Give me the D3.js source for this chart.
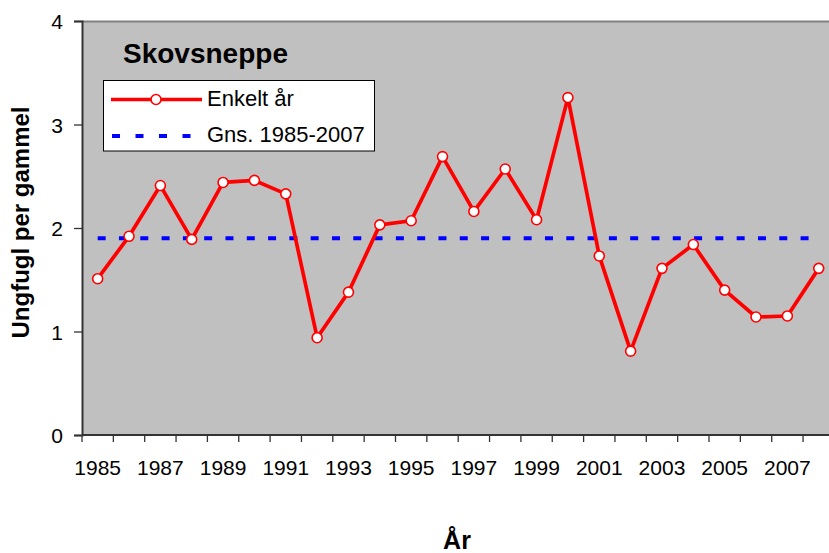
<!DOCTYPE html>
<html>
<head>
<style>
  body { margin: 0; background: #fff; }
  text { font-family: "Liberation Sans", Arial, sans-serif; }
</style>
</head>
<body>
<svg id="chart"></svg>
<script src="https://d3js.org/d3.v7.min.js"></script>
<script>
// data
var YEARS = [1985, 1986, 1987, 1988, 1989, 1990, 1991, 1992, 1993, 1994, 1995, 1996,
             1997, 1998, 1999, 2000, 2001, 2002, 2003, 2004, 2005, 2006, 2007, 2008];
var ENKELT = [1.51, 1.92, 2.41, 1.89, 2.44, 2.46, 2.33, 0.94, 1.38, 2.03, 2.07, 2.69,
              2.16, 2.57, 2.08, 3.26, 1.73, 0.81, 1.61, 1.84, 1.40, 1.14, 1.15, 1.61];
var GNS = 1.90;
var Y_TICKS = [0, 1, 2, 3, 4];
var X_LABELS = [1985, 1987, 1989, 1991, 1993, 1995, 1997, 1999, 2001, 2003, 2005, 2007];

var W = 829, H = 553;
var LEFT = 82, TOP = 21, BOTTOM = 435;
var BAND = 31.35;

var svg = d3.select('#chart').attr('width', W).attr('height', H);

var x = d3.scaleBand().domain(YEARS).range([LEFT, LEFT + BAND * YEARS.length]).padding(0);
var y = d3.scaleLinear().domain([0, 4]).range([BOTTOM, TOP]);
function cx(yr) { return x(yr) + x.bandwidth() / 2; }

// plot area
svg.append('rect')
	.attr('x', LEFT).attr('y', TOP)
	.attr('width', W - LEFT + 10).attr('height', BOTTOM - TOP)
	.style('fill', '#c0c0c0');
svg.append('line')
	.attr('x1', LEFT).attr('x2', W).attr('y1', TOP + 0.5).attr('y2', TOP + 0.5)
	.style('stroke', '#808080').style('stroke-width', 2);

// y axis
var yAxis = svg.append('g')
	.attr('transform', 'translate(' + LEFT + ',0)')
	.call(d3.axisLeft(y).tickValues(Y_TICKS).tickSize(8).tickPadding(11).tickFormat(d3.format('d')));
yAxis.select('.domain').style('stroke', '#333').style('stroke-width', 2);
yAxis.selectAll('.tick line').style('stroke', '#333').style('stroke-width', 1.3);
yAxis.selectAll('text').style('font-size', '21px').style('fill', '#000')
	.style('font-family', '"Liberation Sans", Arial, sans-serif').attr('dy', '0.36em');

// x axis: tick marks on band edges, labels at band centres
svg.append('line')
	.attr('x1', LEFT).attr('x2', W).attr('y1', BOTTOM).attr('y2', BOTTOM)
	.style('stroke', '#333').style('stroke-width', 2);
svg.append('g').selectAll('line')
	.data(YEARS)
	.enter().append('line')
	.attr('x1', function(d) { return x(d); })
	.attr('x2', function(d) { return x(d); })
	.attr('y1', BOTTOM).attr('y2', BOTTOM + 7)
	.style('stroke', '#333').style('stroke-width', 1.3);
svg.append('g').selectAll('text')
	.data(X_LABELS)
	.enter().append('text')
	.attr('x', function(d) { return cx(d); })
	.attr('y', 475)
	.attr('text-anchor', 'middle')
	.style('font-size', '21px')
	.text(function(d) { return d; });

// average line
svg.append('line')
	.attr('x1', cx(YEARS[0])).attr('x2', cx(YEARS[YEARS.length - 1]))
	.attr('y1', y(GNS)).attr('y2', y(GNS))
	.style('stroke', '#0000ff').style('stroke-width', 4)
	.attr('stroke-dasharray', '8,13.3');

// red series
var line = d3.line()
	.x(function(d, i) { return cx(YEARS[i]); })
	.y(function(d) { return y(d); });
svg.append('path')
	.datum(ENKELT)
	.attr('d', line)
	.style('fill', 'none').style('stroke', '#ff0000').style('stroke-width', 3.7)
	.style('stroke-linejoin', 'round');
svg.append('g').selectAll('circle')
	.data(ENKELT)
	.enter().append('circle')
	.attr('cx', function(d, i) { return cx(YEARS[i]); })
	.attr('cy', function(d) { return y(d); })
	.attr('r', 5)
	.style('fill', '#fff').style('stroke', '#ff0000').style('stroke-width', 1.6);

// title
svg.append('text')
	.attr('x', 123).attr('y', 63)
	.style('font-size', '28px').style('font-weight', 'bold')
	.text('Skovsneppe');

// legend
svg.append('rect')
	.attr('x', 103.5).attr('y', 80.5).attr('width', 271).attr('height', 70.5)
	.style('fill', '#fff').style('stroke', '#000').style('stroke-width', 1);
svg.append('line')
	.attr('x1', 111).attr('x2', 202).attr('y1', 99.5).attr('y2', 99.5)
	.style('stroke', '#ff0000').style('stroke-width', 3.7);
svg.append('circle')
	.attr('cx', 156).attr('cy', 99.5).attr('r', 5)
	.style('fill', '#fff').style('stroke', '#ff0000').style('stroke-width', 1.6);
svg.append('line')
	.attr('x1', 112).attr('x2', 202).attr('y1', 136).attr('y2', 136)
	.style('stroke', '#0000ff').style('stroke-width', 4)
	.attr('stroke-dasharray', '8,15.5');
svg.append('text')
	.attr('x', 207).attr('y', 106)
	.style('font-size', '22px')
	.text('Enkelt år');
svg.append('text')
	.attr('x', 207).attr('y', 142)
	.style('font-size', '22px')
	.text('Gns. 1985-2007');

// axis titles
svg.append('text')
	.attr('transform', 'translate(29,222.5) rotate(-90)')
	.attr('text-anchor', 'middle')
	.style('font-size', '24px').style('font-weight', 'bold')
	.text('Ungfugl per gammel');
svg.append('text')
	.attr('x', 457).attr('y', 549)
	.attr('text-anchor', 'middle')
	.style('font-size', '25px').style('font-weight', 'bold')
	.text('År');
</script>
</body>
</html>
